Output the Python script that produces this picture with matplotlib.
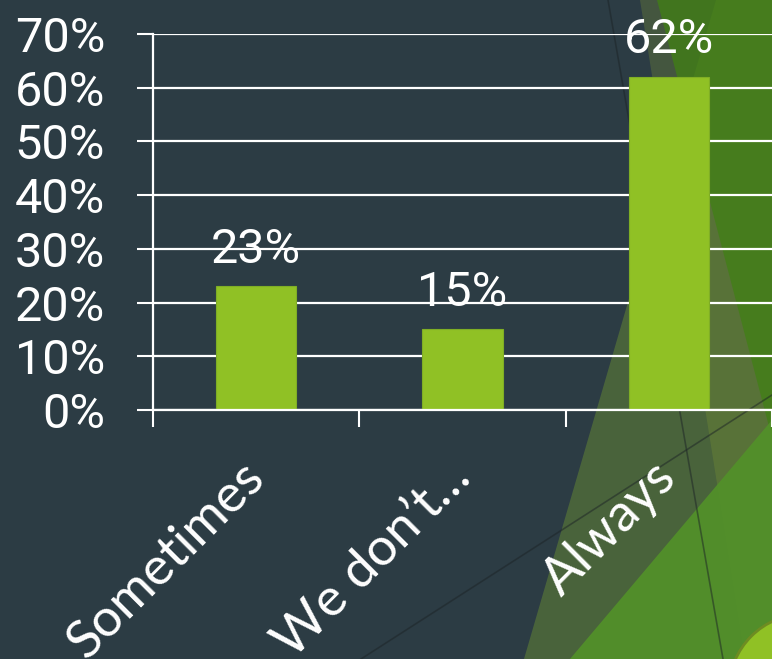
import matplotlib
matplotlib.use("Agg")
import matplotlib.pyplot as plt
from matplotlib.patches import Polygon, Circle
from matplotlib.transforms import ScaledTranslation

categories = ["Sometimes", "We don\u2019t\u2026", "Always"]
shares = [23, 15, 62]
y_ticks = [0, 10, 20, 30, 40, 50, 60, 70]

SLATE = "#2c3c44"
LIME = "#90c125"
NUM_FONT = ["Roboto", "DejaVu Sans"]
CAT_FONT = ["Lato", "DejaVu Sans"]

W, H = 772, 659
fig = plt.figure(figsize=(W / 100, H / 100), dpi=100, facecolor=SLATE)

# theme decoration behind the chart, in pixel units
bg = fig.add_axes([0, 0, 1, 1], zorder=0)
bg.set_xlim(0, W)
bg.set_ylim(H, 0)
bg.axis("off")
bg.add_patch(Polygon([(716, 0), (W, 0), (W, H), (524, H)], closed=True,
                     fc=(0.56, 0.75, 0.16), alpha=0.30, lw=0))
bg.add_patch(Polygon([(640, 0), (W, 0), (W, H), (745, H)], closed=True,
                     fc=(0.50, 0.60, 0.20), alpha=0.29, lw=0))
bg.add_patch(Polygon([(657, 0), (W, 0), (W, 438)], closed=True,
                     fc=(0.25, 0.50, 0.08), alpha=0.75, lw=0))
bg.add_patch(Polygon([(570, H), (W, 420), (W, H)], closed=True,
                     fc=(0.32, 0.57, 0.16), alpha=0.92, lw=0))
bg.add_patch(Circle((805, 690), 76, fc=LIME, ec="#6e8c22", lw=2))
bg.plot([608, 723], [0, H], color="#1c2326", alpha=0.5, lw=1.2)
bg.plot([361, W], [H, 395], color="#1c2326", alpha=0.5, lw=1.2)

ax = fig.add_axes([153 / W, 1 - 410 / H, 1 - 153 / W, (410 - 34) / H], zorder=1)
ax.patch.set_alpha(0)

x = range(len(categories))
bars = ax.bar(x, shares, width=0.39, color=LIME, edgecolor="#7fae25",
              linewidth=0.8, zorder=2)
for xi, v in zip(x, shares):
    ax.annotate(f"{v}%", (xi, v), xytext=(0, 17), textcoords="offset points",
                ha="center", va="baseline", color="white", fontsize=35,
                family=NUM_FONT, zorder=0.4)

ax.set_xlim(-0.5, 2.5)
ax.set_ylim(0, 70)
ax.set_yticks(y_ticks)
ax.set_yticklabels([f"{t}%" for t in y_ticks], family=NUM_FONT, fontsize=35,
                   color="white")
ax.yaxis.grid(True, color="white", lw=1.6, zorder=0.5)
ax.set_axisbelow(True)

ax.set_xticks(list(x))
ax.set_xticks([-0.5, 0.5, 1.5, 2.5], minor=True)
ax.set_xticklabels(categories, family=CAT_FONT, fontsize=38, color="white",
                   rotation=45, ha="right", va="center", rotation_mode="anchor")
shift = ScaledTranslation(11 / 100, 0, fig.dpi_scale_trans)
for lab in ax.get_xticklabels():
    lab.set_transform(lab.get_transform() + shift)

ax.tick_params(axis="x", which="major", length=0, pad=43)
ax.tick_params(axis="x", which="minor", length=12, width=1.5, color="white")
ax.tick_params(axis="y", length=11.5, width=1.5, color="white", pad=23)

for side in ("top", "right"):
    ax.spines[side].set_visible(False)
for side in ("left", "bottom"):
    ax.spines[side].set_color("white")
    ax.spines[side].set_linewidth(1.6)

fig.savefig("out.png", dpi=100, facecolor=SLATE)
